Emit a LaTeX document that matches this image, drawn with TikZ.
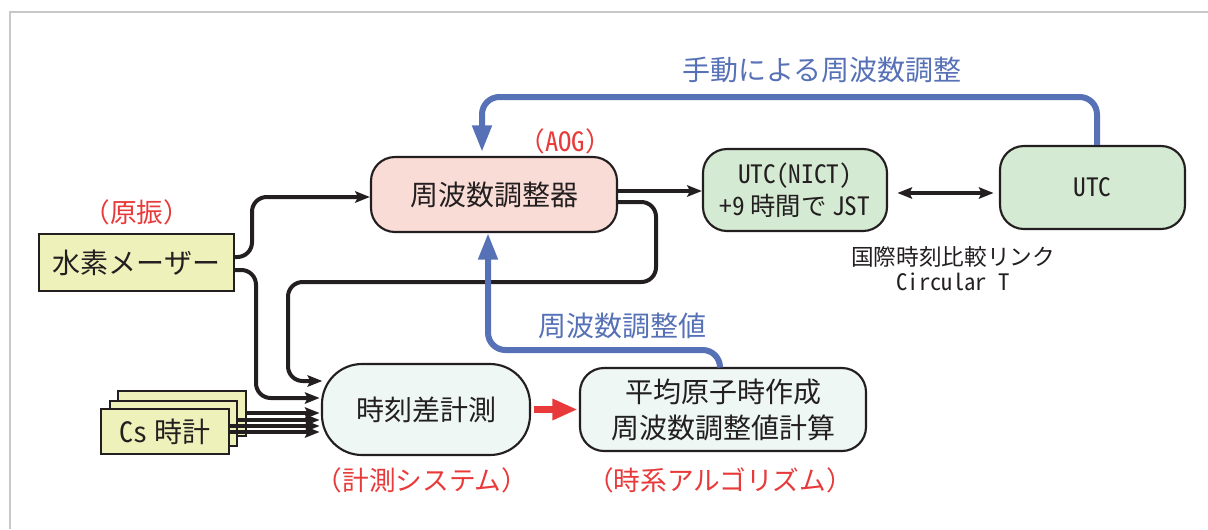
\documentclass[tikz,border=0pt]{standalone}
\usepackage{fontspec}
\setmainfont{Noto Sans CJK JP}
\newfontfamily\hw[RawFeature=+hwid]{Noto Sans CJK JP}
\usetikzlibrary{arrows.meta}
\definecolor{ink}{RGB}{35,31,32}
\definecolor{yel}{RGB}{238,241,186}
\definecolor{pinkf}{RGB}{250,220,214}
\definecolor{greenf}{RGB}{213,234,211}
\definecolor{paleg}{RGB}{238,247,243}
\definecolor{bluec}{RGB}{86,113,182}
\definecolor{redc}{RGB}{232,58,58}
\definecolor{framec}{RGB}{200,200,200}
\begin{document}
\begin{tikzpicture}[x=0.75pt,y=-0.75pt,
  box/.style={draw=ink, line width=1.6pt, inner sep=0pt, text=ink, font=\fontsize{21}{27}\selectfont, align=center},
  ybox/.style={box, fill=yel},
  rbox/.style={box, rounded corners=18pt},
  wire/.style={draw=ink, line width=3pt, rounded corners=11pt, -{Stealth[length=11pt,width=8.5pt,inset=2pt]}},
  bwire/.style={draw=bluec, line width=4.5pt, rounded corners=13pt, -{Triangle[length=20pt,width=14pt]}},
  rlab/.style={text=redc, font=\fontsize{20}{24}\selectfont},
  blab/.style={text=bluec, font=\fontsize{21}{25}\selectfont},
  klab/.style={text=ink, font=\fontsize{17}{20}\selectfont}]
\useasboundingbox (0,0) rectangle (1208,529);
\draw[framec, line width=1.5pt] (10,529) -- (10,12) -- (1208,12);

% boxes
\node[ybox, minimum width=146.25pt, minimum height=42.75pt] (maser) at (136.5,262.5) {水素メーザー};
\node[ybox, minimum width=96pt, minimum height=33.75pt] (csback) at (182,413.5) {};
\node[ybox, minimum width=95.25pt, minimum height=33.75pt] (csmid) at (173.5,423.5) {};
\node[ybox, minimum width=96pt, minimum height=33.75pt, font=\fontsize{21}{24}\selectfont] (csfront) at (165,431.5) {{\hw Cs} 時計};
\node[rbox, fill=pinkf, minimum width=184.5pt, minimum height=56.25pt] (aog) at (494,194.5) {周波数調整器};
\node[rbox, fill=greenf, minimum width=138pt, minimum height=61.5pt, font=\fontsize{19}{24}\selectfont] (nict) at (795,190) {{\hw UTC(NICT)}\\{\hw +9} 時間で {\hw JST}};
\node[rbox, fill=greenf, minimum width=138.75pt, minimum height=62.25pt, font=\fontsize{19}{24}\selectfont] (utc) at (1092.5,187.5) {\hw UTC};
\node[box, fill=paleg, rounded corners=30pt, minimum width=156pt, minimum height=68.25pt] (meas) at (426,409.5) {時刻差計測};
\node[rbox, fill=paleg, minimum width=214.5pt, minimum height=62.25pt] (avg) at (723,409.5) {平均原子時作成\\周波数調整値計算};

% labels
\node[rlab] (lgen) at (137,212) {（原振）};
\node[rlab] (laog) at (565,141) {（{\hw AOG}）};
\node[rlab] (lmeas) at (422,480) {（計測システム）};
\node[rlab] (lalg) at (720,480) {（時系アルゴリズム）};
\node[blab] (lman) at (822,70) {手動による周波数調整};
\node[blab] (ladj) at (622,326) {周波数調整値};
\node[klab] (llink) at (953,257) {国際時刻比較リンク};
\node[klab] (lct) at (953,282) {\hw Circular T};

% black connectors
\draw[wire] (maser.east |- 0,257) -- (252,257) -- (252,197) -- (aog.west |- 0,197);
\draw[wire] (maser.east |- 0,270) -- (256,270) -- (256,398) -- ([xshift=-1pt]meas.west |- 0,398);
\draw[wire] (aog.east |- 0,202) -- (656,202) -- (656,282) -- (288,282) -- (288,381) -- ([xshift=1pt]meas.west |- 0,381);
\draw[wire] (aog.east |- 0,191) -- (nict.west |- 0,191);
\draw[wire, {Stealth[length=11pt,width=8.5pt,inset=2pt]}-{Stealth[length=11pt,width=8.5pt,inset=2pt]}, shorten <=7pt, shorten >=4pt] (nict.east |- 0,193) -- (utc.west |- 0,193);
\draw[wire] (csback.east |- 0,413) -- ([xshift=-1pt]meas.west |- 0,413);
\draw[wire] (csmid.east |- 0,420) -- ([xshift=-1pt]meas.west |- 0,420);
\draw[wire] (csfront.east |- 0,426) -- ([xshift=-1pt]meas.west |- 0,426);
\draw[wire] (csfront.east |- 0,432) -- ([xshift=-1pt]meas.west |- 0,432);

% red arrow
\draw[draw=redc, line width=5.5pt, -{Triangle[length=19pt,width=15pt]}, shorten <=2pt, shorten >=1pt] (meas.east) -- (avg.west);

% blue connectors
\draw[bwire, shorten >=3pt] (utc.north -| 1097,0) -- (1097,97) -- (482,97) -- (aog.north -| 482,0);
\draw[bwire] (avg.north -| 720,0) -- (720,350) -- (488,350) -- (aog.south -| 488,0);
\end{tikzpicture}
\end{document}
